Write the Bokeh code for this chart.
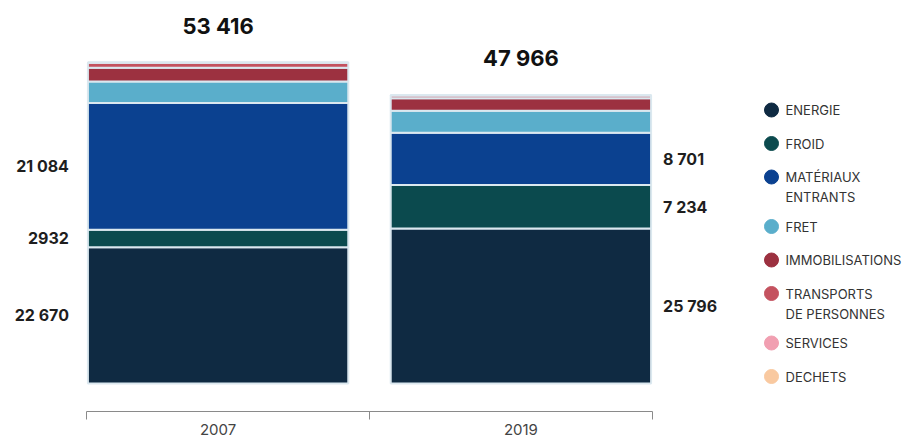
from bokeh.plotting import figure
from bokeh.models import Range1d, LinearAxis, FixedTicker, ColumnDataSource
from bokeh.core.properties import value
from bokeh.embed import file_html
from bokeh.resources import INLINE

# ---------------- data ----------------
years = ["2007", "2019"]
categories = ["ENERGIE", "FROID", "MATÉRIAUX\nENTRANTS", "FRET", "IMMOBILISATIONS",
              "TRANSPORTS\nDE PERSONNES", "SERVICES", "DECHETS"]
energie = [22670, 25796]
froid = [2932, 7234]
materiaux = [21084, 8701]
fret = [3550, 3660]
immobilisations = [2290, 2080]
transports = [860, 465]
services = [20, 20]
dechets = [10, 10]
totals = [53416, 47966]
total_labels = ["53 416", "47 966"]
labels_2007 = ["22 670", "2932", "21 084"]   # energie, froid, materiaux
labels_2019 = ["25 796", "7 234", "8 701"]

colors = ["#0f2a42", "#0b4a4e", "#0b4190", "#5aaecb", "#9c3140", "#c4525f", "#f19fb1", "#f9c9a0"]

series = [energie, froid, materiaux, fret, immobilisations, transports, services, dechets]

# ---------------- layout ----------------
W, H = 908, 437
FRAME_H = 411          # frame bottom (axis line) in px
BASE_PX = 383          # y=0 in px from top
BAR_PX = 321           # px height of tallest bar
X0_PX = 86             # px of x=0
UX = 283               # px per category
k = max(totals) / BAR_PX   # data units per px (y)

def px2x(px):
    return (px - X0_PX) / UX

def py2y(py):
    return (BASE_PX - py) * k

n = len(years)
spread = 0.07
bar_w = 0.92
xs = [round(i + 0.5 + (i - (n - 1) / 2) * spread, 4) for i in range(n)]

p = figure(width=W, height=H,
           x_range=Range1d(px2x(0), px2x(W)),
           y_range=Range1d(py2y(FRAME_H), py2y(0)),
           x_axis_type=None, y_axis_type=None,
           output_backend="svg", toolbar_location=None,
           min_border=0, min_border_bottom=H - FRAME_H)
p.outline_line_color = None
p.background_fill_color = "white"
p.border_fill_color = "white"

keys = [f"s{j}" for j in range(len(series))]
data = {"x": xs}
for key, s in zip(keys, series):
    data[key] = s
src = ColumnDataSource(data)
p.vbar_stack(keys, x="x", width=bar_w, color=colors, source=src,
             line_color="#dbe8ef", line_width=2)

# segment value labels
num_font = value("Inter")
for i, labs in enumerate([labels_2007, labels_2019]):
    bottoms = []
    acc = 0
    for s in series[:len(labs)]:
        bottoms.append(acc + s[i] / 2)
        acc += s[i]
    if i == 0:
        tx = [xs[i] - bar_w / 2] * len(labs)
        align, xoff = "right", -19
    else:
        tx = [xs[i] + bar_w / 2] * len(labs)
        align, xoff = "left", 12
    p.text(x=tx, y=bottoms, text=labs, text_align=align, text_baseline="middle",
           x_offset=xoff, text_font=num_font, text_font_style="bold",
           text_font_size="16px", text_color="#1e1e1e")

# totals
p.text(x=xs, y=totals, text=total_labels, text_align="center", text_baseline="middle",
       y_offset=-37, text_font=num_font, text_font_style="bold",
       text_font_size="22px", text_color="#111111")

# legend (custom, circles + text)
row_y = []
y = 109.5
for c in categories:
    row_y.append(y)
    y += 33.5 + 16 * c.count("\n")
p.scatter(x=[px2x(771)] * len(categories), y=[py2y(v) for v in row_y],
          size=14, color=colors, marker="circle")
p.text(x=[px2x(785)] * len(categories), y=[py2y(v) for v in row_y], text=categories,
       text_align="left", text_baseline="top", y_offset=-8,
       text_font=value("Inter"), text_font_size="13px", text_color="#333333",
       text_line_height=1.25)

# bracket axis with year labels
axis = LinearAxis(ticker=FixedTicker(ticks=xs, minor_ticks=list(range(n + 1))),
                  bounds=(0, n))
axis.major_label_overrides = {x: yr for x, yr in zip(xs, years)}
axis.axis_line_color = "#8a8a8a"
axis.major_tick_line_color = None
axis.major_tick_out = 0
axis.major_tick_in = 0
axis.minor_tick_line_color = "#8a8a8a"
axis.minor_tick_out = 8
axis.minor_tick_in = 0
axis.major_label_standoff = 4
axis.major_label_text_font = "Inter"
axis.major_label_text_font_size = "15px"
axis.major_label_text_color = "#444444"
p.add_layout(axis, "below")

open("out.html", "w").write(file_html(p, INLINE))
